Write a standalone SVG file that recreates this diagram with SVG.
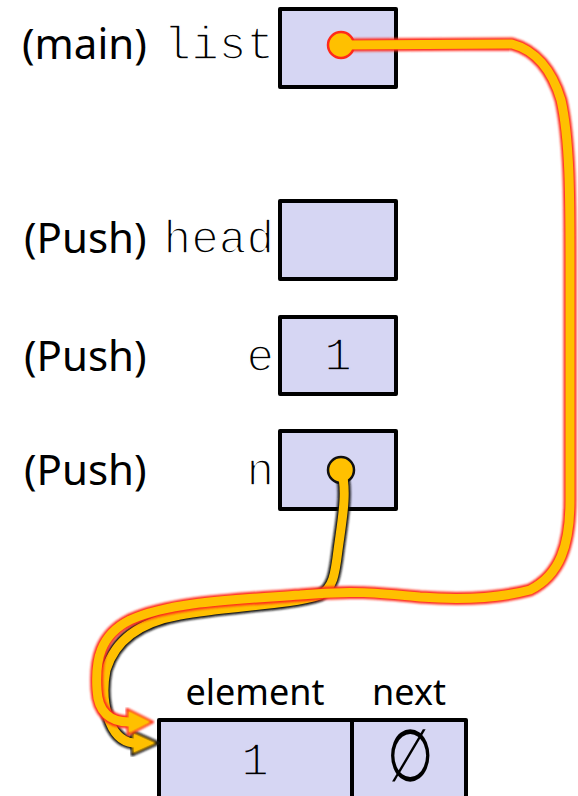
<svg xmlns="http://www.w3.org/2000/svg" width="578" height="796" viewBox="0 0 578 796">
<style>
.box{fill:#d6d6f3;stroke:#000;stroke-width:4;stroke-linejoin:round}
.lbl{font-family:"Noto Sans","Liberation Sans",sans-serif;font-size:42px;fill:#000}
.hdr{font-family:"Noto Sans","Liberation Sans",sans-serif;font-size:36px;fill:#000}
.mono{font-family:"Liberation Mono","Courier New",monospace;font-size:46px;fill:#000;stroke:#fff;stroke-width:1.6}
.inbox{stroke:#d6d6f3}
.redout{fill:none;stroke:#ff2a1a;stroke-width:13;stroke-linecap:round;stroke-linejoin:round}
.blkout{fill:none;stroke:#111;stroke-width:13;stroke-linecap:round;stroke-linejoin:round}
.core{fill:none;stroke:#ffc000;stroke-width:9;stroke-linecap:round;stroke-linejoin:round}
.headR{fill:#ffc000;stroke:#ff2a1a;stroke-width:2.5;stroke-linejoin:round}
.headB{fill:#ffc000;stroke:#111;stroke-width:2.5;stroke-linejoin:round}
</style>
<defs>
<filter id="soft" x="-5%" y="-5%" width="110%" height="110%"><feGaussianBlur stdDeviation="0.8"/></filter>
</defs>

<g id="node-list">
<text class="lbl" x="22" y="59">(main)</text>
<text class="mono" x="274" y="59" text-anchor="end">list</text>
<rect class="box" x="280" y="9" width="116" height="78"/>
</g>
<g id="node-head">
<text class="lbl" x="24" y="253">(Push)</text>
<text class="mono" x="274" y="253" text-anchor="end">head</text>
<rect class="box" x="280" y="201" width="116" height="78"/>
</g>
<g id="node-e">
<text class="lbl" x="24" y="371">(Push)</text>
<text class="mono" x="274" y="371" text-anchor="end">e</text>
<rect class="box" x="280" y="317" width="116" height="77"/>
<text class="mono inbox" x="338" y="370" text-anchor="middle">1</text>
</g>
<g id="node-n">
<text class="lbl" x="24" y="485">(Push)</text>
<text class="mono" x="274" y="485" text-anchor="end">n</text>
<rect class="box" x="280" y="431" width="116" height="78"/>
</g>
<g id="node-struct">
<text class="hdr" x="255" y="705" text-anchor="middle">element</text>
<text class="hdr" x="409" y="705" text-anchor="middle">next</text>
<rect class="box" x="159" y="720" width="307" height="84"/>
<line x1="352" y1="720" x2="352" y2="800" stroke="#000" stroke-width="4"/>
<text class="mono inbox" x="255" y="775" text-anchor="middle">1</text>
<text transform="translate(410,781) scale(0.95,1.3)" x="0" y="0" text-anchor="middle" font-family="Liberation Sans,sans-serif" font-size="56" fill="#000">∅</text>
</g>

<g id="connectors">
<g id="conn-n">
<path class="blkout" filter="url(#soft)" d="M341,470 C348,490 342,520 338,550 C335,575 333,588 320,595 C290,605 230,606 180,615 C140,622 115,640 106,670 C100,700 108,740 133,743"/>
<polygon class="headB" filter="url(#soft)" points="132,731 159,743 132,755"/>
<circle cx="341" cy="470" r="13" fill="#ffc000" stroke="#111" stroke-width="2.5"/>
<path class="core" d="M341,470 C348,490 342,520 338,550 C335,575 333,588 320,595 C290,605 230,606 180,615 C140,622 115,640 106,670 C100,700 108,740 133,743"/>
<polygon fill="#ffc000" points="134,734 154,743 134,752"/>
</g>
<g id="conn-list">
<path class="redout" filter="url(#soft)" d="M341,45 L512,44 C535,50 552,70 561,100 C570,140 570,200 570,260 L570,500 C570,545 560,575 530,590 C500,598 460,600 420,597 C380,593 350,590 300,595 C230,600 170,602 130,620 C100,635 95,660 97,690 C98,712 110,722 129,722"/>
<polygon class="headR" filter="url(#soft)" points="127,709 153,722 128,735"/>
<circle cx="341" cy="45" r="13" fill="#ffc000" stroke="#ff2a1a" stroke-width="2.5"/>
<path class="core" d="M341,45 L512,44 C535,50 552,70 561,100 C570,140 570,200 570,260 L570,500 C570,545 560,575 530,590 C500,598 460,600 420,597 C380,593 350,590 300,595 C230,600 170,602 130,620 C100,635 95,660 97,690 C98,712 110,722 129,722"/>
<polygon fill="#ffc000" points="129,712 149,722 129,732"/>
</g>
</g>
</svg>
